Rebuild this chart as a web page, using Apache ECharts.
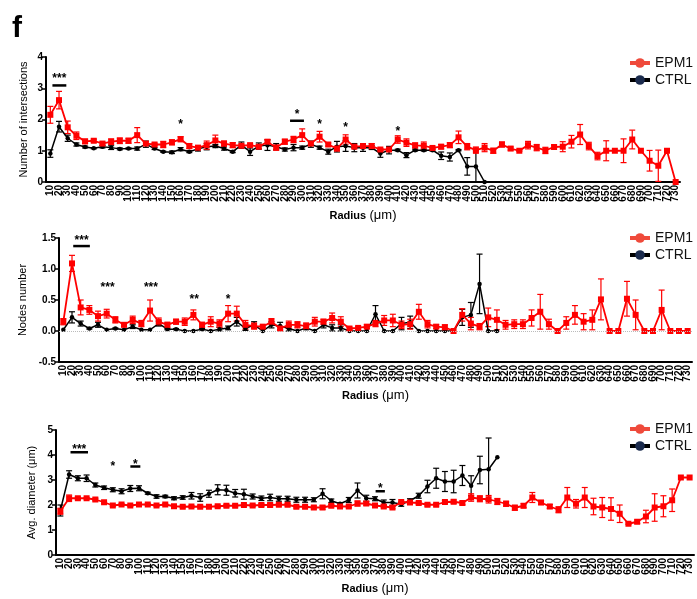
<!DOCTYPE html>
<html>
<head>
<meta charset="utf-8">
<script src="https://cdn.jsdelivr.net/npm/echarts@6/dist/echarts.min.js"></script>
<style>
  html, body { margin: 0; padding: 0; background: #fff; }
  #chart { width: 697px; height: 599px; }
</style>
</head>
<body>
<div id="chart"></div>
<script>
const radius = ['10','20','30','40','50','60','70','80','90','100','110','120','130','140','150','160','170','180','190','200',
  '210','220','230','240','250','260','270','280','290','300','310','320','330','340','350','360','370','380','390','400',
  '410','420','430','440','450','460','470','480','490','500','510','520','530','540','550','560','570','580','590','600',
  '610','620','630','640','650','660','670','680','690','700','710','720','730']

// Number of intersections
const interEpm = [2.15,2.62,1.75,1.48,1.30,1.32,1.23,1.29,1.32,1.32, 1.50,1.23,1.20,1.20,1.27,1.37,1.15,1.10,1.18,1.33,
  1.23,1.18,1.16,1.18,1.13,1.29,1.10,1.29,1.36,1.50, 1.23,1.45,1.20,1.07,1.36,1.13,1.15,1.15,1.04,1.04,
  1.36,1.26,1.17,1.16,1.09,1.13,1.18,1.43,1.13,1.02, 1.10,1.00,1.20,1.07,1.00,1.18,1.10,1.01,1.12,1.13,
  1.29,1.52,1.15,0.83,1.00,1.00,1.00,1.36,1.00,0.68, 0.52,1.00,0]
const interEpmErr = [.27,.28,.2,.12,.07,.05,.05,.09,.09,.08, .24,.06,.04,.1,.08,.08,.08,.05,.13,.17,
  .08,.08,.05,.04,.06,.06,.08,.08,.1,.2, .05,.17,.05,.07,.15,.05,.06,.08,.03,.04,
  .12,.12,.08,.12,.03,.07,.08,.2,.1,.1, .13,.08,.08,.05,.02,.12,.1,.1,.06,.16,
  .2,.32,.12,.12,.32,0,.38,.3,0,.33, .5,0,0]
const interCtrl = [0.91,1.77,1.40,1.20,1.12,1.08,1.13,1.10,1.06,1.07, 1.07,1.21,1.07,0.97,0.95,1.05,0.97,1.06,1.13,1.15,
  1.07,0.97,1.18,0.97,1.15,1.18,1.13,1.04,1.10,1.10, 1.21,1.10,0.97,1.13,1.15,1.10,1.10,1.10,0.91,1.02,
  1.02,0.86,1.02,1.02,1.02,0.84,0.80,1.02,0.50,0.50, 0,null,null,null,null,null,null,null,null,null,
  null,null,null,null,null,null,null,null,null,null, null,null,null]
const interCtrlErr = [.12,.17,.1,.05,.03,.02,.04,.06,.03,.02, .05,.1,.03,.02,.04,.05,.03,.07,.1,.05,
  .05,.03,.1,.12,.1,.17,.1,.05,.1,.05, .1,.05,.08,.17,.17,.13,.12,.06,.12,.12,
  .03,.08,.03,.03,.03,.12,.13,.02,.28,.5, 0]

// Nodes number
const nodesEpm = [.15,1.09,.38,.34,.24,.28,.18,.10,.18,.12, .33,.15,.10,.15,.15,.26,.10,.15,.12,.28,
  .28,.10,.08,.07,.15,.04,.10,.10,.08,.15, .15,.21,.15,.04,.05,.07,.12,.17,.17,.10,
  .11,.31,.11,.07,.06,0,.26,.12,.07,.22, .18,.10,.11,.11,.21,.31,.11,0,.13,.26,
  .15,.18,.51,0,0,.52,.26,0,0,.34, 0,0,0]
const nodesEpmErr = [.05,.13,.12,.07,.08,.07,.05,.03,.06,.05, .17,.06,.04,.04,.06,.08,.04,.08,.06,.13,
  .12,.07,.05,.02,.05,.03,.06,.05,.05,.07, .04,.08,.08,.02,.02,.03,.05,.08,.1,.06,
  .08,.12,.06,.03,.04,0,.1,.1,.05,.15, .16,.07,.07,.07,.13,.28,.08,0,.1,.15,
  .13,.16,.33,0,0,.28,.24,0,0,.32, 0,0,0]
const nodesCtrl = [.02,.22,.12,.04,.10,.02,.04,.02,.07,.02, .02,.12,.03,.03,0,0,.03,0,.03,.05,
  .15,.04,.10,0,.10,.08,.04,0,.05,0, .10,.05,.05,0,0,0,.27,0,0,.12,
  .14,0,0,0,0,0,.22,.26,.76,0, 0,null,null,null,null,null,null,null,null,null,
  null,null,null,null,null,null,null,null,null,null, null,null,null]
const nodesCtrlErr = [0,.09,.04,.01,.04,0,.01,0,.03,0, 0,.04,.01,.01,0,0,.01,0,.03,.03,
  .07,.03,.05,0,.05,.06,.04,0,.03,0, .05,.05,.05,0,0,0,.14,0,0,.1,
  .1,0,0,0,0,0,.13,.2,.48,0, 0]

// Avg. diameter
const diamEpm = [1.75,2.27,2.27,2.27,2.22,2.11,1.98,2.02,1.98,2.02, 2.02,1.98,2.02,1.95,1.93,1.94,1.93,1.93,1.95,1.97,
  1.97,2.00,1.98,2.00,2.00,2.01,2.01,1.93,1.93,1.90, 1.90,1.97,1.94,1.94,2.06,2.06,1.98,1.94,1.90,2.12,
  2.10,2.08,2.01,2.01,2.12,2.13,2.08,2.30,2.25,2.23, 2.14,2.05,1.89,1.97,2.30,2.10,1.94,1.81,2.30,2.05,
  2.30,1.94,1.90,1.84,1.65,1.25,1.33,1.54,1.90,1.95, 2.19,3.10,3.10]
const diamEpmErr = [.12,.13,.05,.03,.05,.04,.03,.03,.03,.03, .03,.03,.03,.05,.04,.03,.04,.03,.04,.05,
  .05,.04,.04,.06,.07,.05,.05,.05,.05,.06, .07,.05,.05,.05,.1,.07,.05,.05,.05,.03,
  .07,.05,.05,.05,.06,.07,.07,.15,.12,.15, .12,.1,.1,.08,.2,.08,.08,.12,.4,.17,
  .4,.33,.4,.45,.35,.03,.07,.25,.55,.42, .45,0,0]
const diamCtrl = [1.78,3.22,3.07,3.07,2.80,2.69,2.61,2.55,2.66,2.67, 2.47,2.34,2.34,2.27,2.30,2.37,2.30,2.45,2.61,2.59,
  2.47,2.43,2.34,2.27,2.30,2.25,2.25,2.21,2.21,2.21, 2.45,2.17,2.05,2.20,2.58,2.27,2.25,2.10,2.10,2.03,
  2.17,2.37,2.74,3.07,2.94,2.94,3.18,2.77,3.40,3.43, 3.91,null,null,null,null,null,null,null,null,null,
  null,null,null,null,null,null,null,null,null,null, null,null,null]
const diamCtrlErr = [.22,.15,.1,.13,.08,.07,.08,.1,.12,.1, .04,.07,.05,.06,.07,.13,.15,.14,.2,.2,
  .15,.2,.1,.09,.13,.1,.1,.1,.1,.08, .2,.07,.03,.1,.3,.12,.08,.1,.12,.08,
  .08,.1,.25,.4,.4,.45,.4,.4,.55,1.25, 0]

// significance marks: [category position, bar half width (bands), bar y, star y, text]
const interSig = [[1.04,0.8,3.09,3.40,'***'],[15,0,0,1.93,'*'],[28.4,0.8,1.96,2.25,'*'],
  [31,0,0,1.92,'*'],[34,0,0,1.82,'*'],[40,0,0,1.72,'*']]
const nodesSig = [[2.1,0.96,1.37,1.50,'***'],[5.1,0,0,0.74,'***'],[10.1,0,0,0.74,'***'],
  [15.1,0,0,0.55,'**'],[19,0,0,0.55,'*']]
const diamSig = [[2.16,1.0,4.11,4.33,'***'],[6,0,0,3.65,'*'],[8.58,0.57,3.54,3.74,'*'],[36.6,0.53,2.55,2.77,'*']]

const FONT = 'Liberation Sans, Arial, sans-serif'
const RED = '#ff0000'
const BLACK = '#000000'

const panels = [
  {grid: {left: 46, top: 57, width: 634, height: 125}, yName: 'Number of intersections', nameGap: 17,
    min: 0, max: 4, step: 1, dec: 0, legendTop: 56,
    epm: interEpm, epmErr: interEpmErr, ctrl: interCtrl, ctrlErr: interCtrlErr, sig: interSig},
  {grid: {left: 59, top: 238, width: 633, height: 124}, yName: 'Nodes number', nameGap: 31,
    min: -0.5, max: 1.5, step: 0.5, dec: 1, legendTop: 231,
    epm: nodesEpm, epmErr: nodesEpmErr, ctrl: nodesCtrl, ctrlErr: nodesCtrlErr, sig: nodesSig},
  {grid: {left: 56, top: 430, width: 638, height: 125}, yName: 'Avg. diameter (μm)', nameGap: 19,
    min: 0, max: 5, step: 1, dec: 0, legendTop: 422,
    epm: diamEpm, epmErr: diamEpmErr, ctrl: diamCtrl, ctrlErr: diamCtrlErr, sig: diamSig}
]

const errData = (means, errs) => means.map((m, i) => m == null ? null : [i, m, errs[i] || 0]).filter(d => d)

const errRender = (color) => (params, api) => {
  const i = api.value(0), m = api.value(1), e = api.value(2)
  if (!e) return
  const t = api.coord([i, m + e]), b = api.coord([i, m - e])
  const w = 3
  const st = {stroke: color, lineWidth: 1.2}
  return {type: 'group', children: [
    {type: 'line', shape: {x1: t[0], y1: t[1], x2: b[0], y2: b[1]}, style: st},
    {type: 'line', shape: {x1: t[0] - w, y1: t[1], x2: t[0] + w, y2: t[1]}, style: st},
    {type: 'line', shape: {x1: b[0] - w, y1: b[1], x2: b[0] + w, y2: b[1]}, style: st}
  ]}
}

const sigRender = (sig) => (params, api) => {
  const s = sig[params.dataIndex]
  const bw = api.size([1, 0])[0]
  const cx = api.coord([0, 0])[0] + s[0] * bw
  const kids = []
  if (s[1] > 0) {
    const y = api.coord([0, s[2]])[1]
    kids.push({type: 'line', shape: {x1: cx - s[1] * bw, y1: y, x2: cx + s[1] * bw, y2: y},
      style: {stroke: BLACK, lineWidth: 2.5}})
  }
  const ty = api.coord([0, s[3]])[1]
  kids.push({type: 'text', x: cx, y: ty + 3,
    style: {text: s[4], fill: BLACK, font: 'bold 12px ' + FONT, align: 'center', verticalAlign: 'middle'}})
  return {type: 'group', children: kids}
}

const grids = [], xAxes = [], yAxes = [], legends = [], series = []

panels.forEach((p, k) => {
  grids.push(p.grid)
  xAxes.push({
    type: 'category', gridIndex: k, data: radius, boundaryGap: true,
    axisLine: {onZero: false, lineStyle: {color: BLACK, width: 2}},
    axisTick: {alignWithLabel: true, interval: 0, length: 3, lineStyle: {color: BLACK, width: 1}},
    axisLabel: {interval: 0, rotate: 90, fontSize: 10, fontWeight: 'bold', color: BLACK, fontFamily: FONT, margin: 3},
    name: '{b|Radius} {n|(μm)}', nameLocation: 'middle', nameGap: 27, nameMoveOverlap: false,
    nameTextStyle: {rich: {
      b: {fontWeight: 'bold', fontSize: 11, fontFamily: FONT, color: BLACK},
      n: {fontSize: 13, fontFamily: FONT, color: BLACK}
    }}
  })
  yAxes.push({
    type: 'value', gridIndex: k, min: p.min, max: p.max, interval: p.step,
    axisLine: {show: true, lineStyle: {color: BLACK, width: 2}},
    axisTick: {show: true, length: 4, lineStyle: {color: BLACK, width: 1.5}},
    splitLine: {show: false},
    axisLabel: {fontSize: 10, fontWeight: 'bold', color: BLACK, fontFamily: FONT, margin: 3,
      formatter: v => v.toFixed(p.dec)},
    name: p.yName, nameLocation: 'middle', nameGap: p.nameGap, nameMoveOverlap: false,
    nameTextStyle: {fontSize: 11, color: BLACK, fontFamily: FONT}
  })
  legends.push({
    orient: 'vertical', left: 628, top: p.legendTop, padding: 0, itemWidth: 20, itemHeight: 12, itemGap: 3,
    selectedMode: false,
    textStyle: {fontSize: 14, color: '#111', fontFamily: FONT},
    data: [
      {name: 'EPM1', itemStyle: {color: '#ef4a3b', borderWidth: 0}, lineStyle: {color: '#ef4a3b', width: 4}},
      {name: 'CTRL', itemStyle: {color: '#1b2b4d', borderWidth: 0}, lineStyle: {color: BLACK, width: 4}}
    ]
  })
  series.push({
    type: 'custom', xAxisIndex: k, yAxisIndex: k, z: 2, silent: true,
    data: errData(p.ctrl, p.ctrlErr), renderItem: errRender(BLACK)
  })
  series.push({
    type: 'custom', xAxisIndex: k, yAxisIndex: k, z: 2, silent: true,
    data: errData(p.epm, p.epmErr), renderItem: errRender(RED)
  })
  series.push({
    name: 'CTRL', type: 'line', xAxisIndex: k, yAxisIndex: k, z: 3,
    data: p.ctrl, symbol: 'circle', symbolSize: 4.5, showAllSymbol: true,
    itemStyle: {color: BLACK}, lineStyle: {color: BLACK, width: 1.5}
  })
  const epmLine = {
    name: 'EPM1', type: 'line', xAxisIndex: k, yAxisIndex: k, z: 4,
    data: p.epm.map(v => ({value: v, symbol: 'rect'})), symbol: 'circle', symbolSize: 6, showAllSymbol: true,
    itemStyle: {color: RED}, lineStyle: {color: RED, width: 1.8}
  }
  if (p.min < 0) {
    epmLine.markLine = {silent: true, symbol: 'none', label: {show: false}, animation: false,
      lineStyle: {type: 'dotted', color: '#bbbbbb', width: 1}, data: [{yAxis: 0}]}
  }
  series.push(epmLine)
  series.push({
    type: 'custom', xAxisIndex: k, yAxisIndex: k, z: 5, silent: true,
    data: p.sig.map(s => [0, s[3]]), renderItem: sigRender(p.sig)
  })
})

const chart = echarts.init(document.getElementById('chart'))
chart.setOption({
  animation: false,
  backgroundColor: '#fff',
  grid: grids,
  xAxis: xAxes,
  yAxis: yAxes,
  legend: legends,
  series: series,
  graphic: [{type: 'text', left: 12, top: 14,
    style: {text: 'f', font: 'bold 30px ' + FONT, fill: BLACK}}]
})
</script>
</body>
</html>
